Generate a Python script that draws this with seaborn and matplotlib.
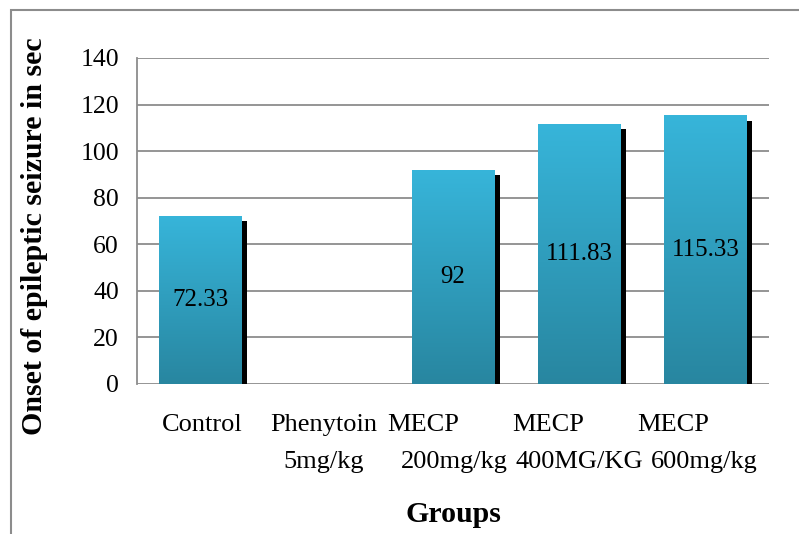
import numpy as np
import pandas as pd
import matplotlib
matplotlib.use("Agg")
import matplotlib.pyplot as plt
import matplotlib.patheffects as pe
from matplotlib.colors import LinearSegmentedColormap
from matplotlib.patches import Rectangle
import seaborn as sns

# Onset of epileptic seizure (sec) per treatment group
groups = ["Control", "Phenytoin 5mg/kg", "MECP 200mg/kg", "MECP 400MG/KG", "MECP 600mg/kg"]
onset = [72.33, 0, 92, 111.83, 115.33]
label_lines = [["Control"], ["Phenytoin", "5mg/kg"], ["MECP", "200mg/kg"],
               ["MECP", "400MG/KG"], ["MECP", "600mg/kg"]]
yticks = [0, 20, 40, 60, 80, 100, 120, 140]

df = pd.DataFrame({"group": groups, "onset": onset})

sns.set_theme(style="white")
plt.rcParams["font.family"] = ["Liberation Serif", "DejaVu Serif"]
plt.rcParams["text.color"] = "black"
plt.rcParams["ytick.color"] = "black"
plt.rcParams["xtick.color"] = "black"

fig = plt.figure(figsize=(7.99, 5.34), dpi=100)
ax = fig.add_axes([137 / 799, 1 - 384 / 534, (769 - 137) / 799, (384 - 58) / 534])

top_col = "#37B5DA"
bot_col = "#2886A0"
grad = LinearSegmentedColormap.from_list("bar", [bot_col, top_col])

sns.barplot(data=df, x="group", y="onset", ax=ax, color=bot_col, width=0.655,
            saturation=1, errorbar=None, zorder=3)

# drop shadow to the lower right, then a vertical gradient clipped to each bar
shadow = [pe.SimplePatchShadow(offset=(3.8, -3.8), shadow_rgbFace="black", alpha=1.0),
          pe.Normal()]
ax.set_ylim(0, 140)
ax.set_xlim(-0.5, len(groups) - 0.5)
for patch, val in zip(ax.patches, onset):
    patch.set_linewidth(0)
    if val <= 0:
        continue
    patch.set_path_effects(shadow)
    x0 = patch.get_x()
    w = patch.get_width()
    img = ax.imshow(np.linspace(0, 1, 256).reshape(-1, 1), cmap=grad, origin="lower",
                    extent=[x0, x0 + w, 0, val], aspect="auto", zorder=4,
                    interpolation="bilinear")
    img.set_clip_path(patch)
    ax.text(x0 + w / 2, val / 2, f"{val:g}", ha="center", va="center",
            fontsize=18, color="black", zorder=5)

ax.set_ylim(0, 140)
ax.set_xlim(-0.5, len(groups) - 0.5)

# axes styling
ax.set_yticks(yticks)
ax.set_yticklabels([str(t) for t in yticks], fontsize=18.5)
ax.tick_params(axis="y", length=0, pad=13)
ax.set_xticks(range(len(groups)))
ax.set_xticklabels([""] * len(groups))
ax.tick_params(axis="x", length=0)
ax.grid(axis="y", color="#8C8C8C", linewidth=1.3, zorder=0)
ax.set_axisbelow(True)
for side in ["top", "right", "bottom"]:
    ax.spines[side].set_visible(False)
ax.spines["left"].set_color("#8C8C8C")
ax.spines["left"].set_linewidth(1.3)
ax.set_xlabel("")
ax.set_ylabel("")

# wrapped category labels (first line sits left of the second for the MECP groups)
cat_px = (769 - 137) / len(groups)
line_dx = [[2], [-3, -3], [-30, 1], [-31, 0], [-33, -2]]
trans = ax.get_xaxis_transform()
for i, (lines, dxs) in enumerate(zip(label_lines, line_dx)):
    for j, (txt, dx) in enumerate(zip(lines, dxs)):
        ax.text(i + dx / cat_px, -(41 + 37 * j) / 326, txt, transform=trans,
                ha="center", va="center", fontsize=19, color="black")

fig.text(35 / 799, 1 - 236 / 534, "Onset of epileptic seizure in sec", rotation=90,
         ha="center", va="center", fontsize=21.5, fontweight="bold", color="black")
fig.text(453 / 799, 1 - 514 / 534, "Groups", ha="center", va="center",
         fontsize=21.5, fontweight="bold", color="black")

# outer chart frame (left and top edges fall inside the canvas)
fig.patches.append(Rectangle((10.5 / 799, -0.1), 1.2, 1 - 10.5 / 534 + 0.1,
                             transform=fig.transFigure, fill=False,
                             edgecolor="#8C8C8C", linewidth=1.5))

fig.savefig("out.png", dpi=100)
